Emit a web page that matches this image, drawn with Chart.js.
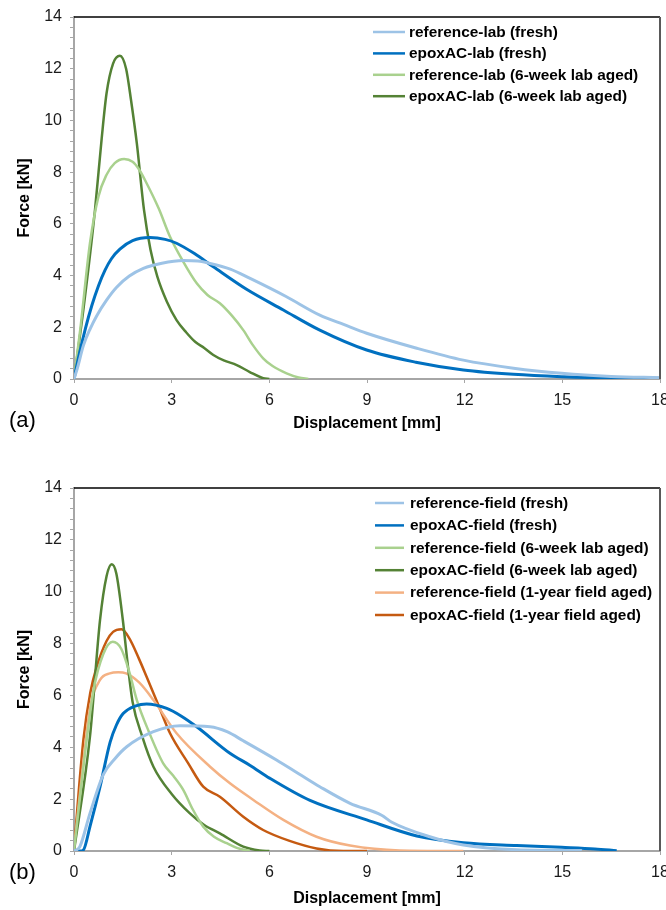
<!DOCTYPE html>
<html>
<head>
<meta charset="utf-8">
<script src="https://cdn.jsdelivr.net/npm/chart.js"></script>
<style>
  body { margin: 0; background: #fff; width: 666px; height: 910px; overflow: hidden; }
  .box { position: absolute; left: 0; width: 666px; height: 455px; }
</style>
</head>
<body>
<div class="box" style="top:0"><canvas id="chartA" width="666" height="455"></canvas></div>
<div class="box" style="top:455px"><canvas id="chartB" width="666" height="455"></canvas></div>
<script>
// axis ticks
const xTickStep = 3;
const xMax = 18;
const yMax = 14;
const yMinorStep = 0.4;
const yLabelStep = 2;

// ---- panel (a): lab mixes ----
const refLabFreshX = [0, 0.1, 0.29, 0.5, 0.7, 1.0, 1.31, 1.7, 2.13, 2.7, 3.36, 3.8, 4.18, 4.8, 5.41, 6.5, 7.55, 8.3, 8.99, 10.5, 11.96, 13.5, 14.98, 16.5, 18];
const refLabFreshY = [0, 0.4, 1.3, 1.95, 2.45, 3.05, 3.55, 3.98, 4.28, 4.48, 4.58, 4.56, 4.47, 4.25, 3.89, 3.2, 2.47, 2.1, 1.77, 1.2, 0.73, 0.42, 0.22, 0.1, 0.05];

const epoxLabFreshX = [0, 0.15, 0.35, 0.55, 0.75, 0.95, 1.15, 1.41, 1.8, 2.33, 2.8, 3.15, 3.7, 4.28, 5.3, 6.43, 7.55, 8.99, 10.5, 11.96, 13.5, 14.98, 16.5, 18];
const epoxLabFreshY = [0, 0.9, 1.95, 2.85, 3.6, 4.2, 4.65, 5.02, 5.35, 5.47, 5.4, 5.25, 4.85, 4.34, 3.47, 2.67, 1.89, 1.12, 0.65, 0.35, 0.18, 0.09, 0.04, 0.03];

const refLab6wX = [0, 0.2, 0.49, 0.75, 1.0, 1.25, 1.54, 1.8, 2.0, 2.23, 2.6, 2.95, 3.35, 3.77, 4.1, 4.48, 4.85, 5.2, 5.5, 5.81, 6.1, 6.53, 6.9, 7.2];
const refLab6wY = [0, 2.0, 5.25, 7.05, 7.9, 8.35, 8.51, 8.4, 8.1, 7.57, 6.6, 5.5, 4.55, 3.7, 3.25, 2.93, 2.45, 1.89, 1.3, 0.8, 0.5, 0.22, 0.06, 0];

const epoxLab6wX = [0, 0.3, 0.645, 0.85, 1.0, 1.2, 1.41, 1.6, 1.75, 1.93, 2.15, 2.35, 2.56, 2.85, 3.15, 3.45, 3.72, 4.0, 4.28, 4.6, 5.0, 5.4, 5.81, 6.0];
const epoxLab6wY = [0, 2.8, 6.54, 9.3, 11.05, 12.2, 12.5, 12.0, 10.8, 9.11, 6.54, 5.0, 3.96, 3.0, 2.28, 1.8, 1.44, 1.2, 0.93, 0.72, 0.54, 0.27, 0.03, 0];

// ---- panel (b): field mixes ----
const refFieldFreshX = [0, 0.18, 0.49, 0.9, 1.25, 1.62, 2.44, 3.26, 4.18, 4.7, 5.2, 6.22, 6.94, 7.55, 8.48, 9.45, 9.75, 10.93, 11.96, 13.6, 15.6];
const refFieldFreshY = [0, 0.17, 1.45, 2.95, 3.55, 4.02, 4.6, 4.83, 4.79, 4.6, 4.25, 3.51, 2.95, 2.48, 1.84, 1.38, 1.12, 0.55, 0.23, 0.05, 0.02];

const epoxFieldFreshX = [0, 0.2, 0.29, 0.49, 0.8, 1.11, 1.3, 1.51, 1.9, 2.23, 2.85, 3.3, 3.77, 4.79, 5.41, 6.02, 7.25, 8.99, 10.53, 11.96, 13.6, 14.98, 16.0, 16.67];
const epoxFieldFreshY = [0, 0, 0.04, 0.94, 2.48, 4.2, 4.85, 5.3, 5.6, 5.67, 5.5, 5.2, 4.79, 3.77, 3.3, 2.8, 1.95, 1.2, 0.58, 0.32, 0.21, 0.14, 0.08, 0.01];

const refField6wX = [0, 0.29, 0.6, 0.9, 1.19, 1.45, 1.7, 1.93, 2.3, 2.74, 3.05, 3.36, 3.65, 3.97, 4.3, 4.69, 5.0, 5.4];
const refField6wY = [0, 3.25, 6.2, 7.6, 8.07, 7.8, 6.9, 5.82, 4.6, 3.38, 2.9, 2.35, 1.6, 0.94, 0.55, 0.3, 0.12, 0];

const epoxField6wX = [0, 0.49, 0.8, 1.0, 1.16, 1.3, 1.5, 1.65, 1.8, 2.1, 2.44, 3.0, 3.56, 4.0, 4.48, 5.2, 5.7, 6.0];
const epoxField6wY = [0, 4.41, 8.91, 10.6, 11.06, 10.7, 8.91, 7.2, 5.75, 4.4, 3.25, 2.2, 1.45, 1.0, 0.68, 0.17, 0.02, 0];

const refField1yX = [0, 0.25, 0.49, 0.8, 1.1, 1.36, 1.6, 2.0, 2.44, 3.15, 4.18, 4.8, 5.51, 6.43, 7.45, 8.48, 10.0, 11.96];
const refField1yY = [0, 3.0, 5.5, 6.6, 6.85, 6.89, 6.85, 6.5, 5.82, 4.54, 3.25, 2.6, 1.97, 1.2, 0.55, 0.21, 0.02, 0];

const epoxField1yX = [0, 0.1, 0.29, 0.5, 0.7, 1.0, 1.2, 1.46, 1.7, 2.0, 2.23, 2.6, 2.95, 3.5, 3.97, 4.48, 5.2, 5.81, 6.6, 7.45, 8.27, 9.0];
const epoxField1yY = [0, 1.6, 4.3, 6.1, 7.11, 8.1, 8.45, 8.55, 8.2, 7.4, 6.72, 5.6, 4.54, 3.4, 2.48, 2.09, 1.32, 0.81, 0.4, 0.1, 0, 0];

function pts(xs, ys) {
  return xs.map((x, i) => ({ x: x, y: ys[i] }));
}

function series(label, xs, ys, color, width) {
  return {
    label: label,
    data: pts(xs, ys),
    borderColor: color,
    backgroundColor: color,
    borderWidth: width,
    pointRadius: 0,
    cubicInterpolationMode: 'monotone',
    fill: false
  };
}

const FONT = '"Liberation Sans", Arial, sans-serif';
Chart.defaults.font.family = FONT;
Chart.defaults.color = '#1a1a1a';

// plot frame, legend and panel letter
const framePlugin = {
  id: 'frame',
  afterDraw(chart, args, o) {
    const ctx = chart.ctx, a = chart.chartArea;
    ctx.save();
    ctx.strokeStyle = '#000';
    ctx.lineWidth = 1.5;
    ctx.beginPath(); ctx.moveTo(a.left, a.top); ctx.lineTo(a.right, a.top); ctx.stroke();
    ctx.strokeStyle = '#595959';
    ctx.lineWidth = 2;
    ctx.beginPath(); ctx.moveTo(a.right, a.top); ctx.lineTo(a.right, a.bottom); ctx.stroke();

    ctx.font = 'bold 15.4px ' + FONT;
    ctx.textBaseline = 'middle';
    ctx.textAlign = 'left';
    chart.data.datasets.forEach((ds, i) => {
      const y = o.legendTop + i * o.legendStep;
      ctx.strokeStyle = ds.borderColor;
      ctx.lineWidth = 2.5;
      ctx.beginPath(); ctx.moveTo(o.lineX0, y); ctx.lineTo(o.lineX1, y); ctx.stroke();
      ctx.fillStyle = '#000';
      ctx.fillText(ds.label, o.textX, y + 0.5);
    });

    ctx.font = '22px ' + FONT;
    ctx.fillStyle = '#000';
    ctx.fillText(o.panel, 9, o.panelY);
    ctx.restore();
  }
};

function makeChart(id, datasets, cfg) {
  return new Chart(document.getElementById(id), {
    type: 'line',
    data: { datasets: datasets },
    plugins: [framePlugin],
    options: {
      responsive: false,
      animation: false,
      layout: { padding: { left: 0, top: cfg.top, right: 6, bottom: 0 } },
      plugins: {
        legend: { display: false },
        tooltip: { enabled: false },
        frame: cfg.frame
      },
      scales: {
        x: {
          type: 'linear',
          min: 0,
          max: xMax,
          ticks: { stepSize: xTickStep, padding: 8, font: { size: 16 } },
          grid: { drawOnChartArea: false, drawTicks: true, tickLength: 4, color: '#a6a6a6' },
          border: { color: '#a6a6a6', width: 2 },
          title: { display: true, text: 'Displacement [mm]', font: { size: 16, weight: 'bold' }, color: '#000', padding: { top: 0, bottom: cfg.xTitlePad } },
          afterFit(s) { s.height = cfg.xHeight; s.paddingLeft = 0; s.paddingRight = 0; }
        },
        y: {
          type: 'linear',
          min: 0,
          max: yMax,
          ticks: {
            stepSize: yMinorStep,
            autoSkip: false,
            padding: 8,
            font: { size: 16 },
            callback(v) {
              const r = v / yLabelStep;
              return Math.abs(r - Math.round(r)) < 1e-6 ? String(Math.round(v)) : '';
            }
          },
          grid: { drawOnChartArea: false, drawTicks: true, tickLength: 4, color: '#a6a6a6' },
          border: { color: '#a6a6a6', width: 2 },
          title: { display: true, text: 'Force [kN]', font: { size: 16, weight: 'bold' }, color: '#000', padding: { top: 15, bottom: 0 } },
          afterFit(s) { s.width = 74; s.paddingTop = 0; s.paddingBottom = 0; }
        }
      }
    }
  });
}

makeChart('chartA', [
  series('reference-lab (fresh)', refLabFreshX, refLabFreshY, '#9dc3e6', 3),
  series('epoxAC-lab (fresh)', epoxLabFreshX, epoxLabFreshY, '#0070c0', 3),
  series('reference-lab (6-week lab aged)', refLab6wX, refLab6wY, '#a9d18e', 2.5),
  series('epoxAC-lab (6-week lab aged)', epoxLab6wX, epoxLab6wY, '#548235', 2.5)
], {
  top: 17, xHeight: 76, xTitlePad: 21.4,
  frame: { legendTop: 32, legendStep: 21.4, lineX0: 373, lineX1: 405, textX: 409, panel: '(a)', panelY: 421 }
});

makeChart('chartB', [
  series('reference-field (fresh)', refFieldFreshX, refFieldFreshY, '#9dc3e6', 3),
  series('epoxAC-field (fresh)', epoxFieldFreshX, epoxFieldFreshY, '#0070c0', 3),
  series('reference-field (6-week lab aged)', refField6wX, refField6wY, '#a9d18e', 2.5),
  series('epoxAC-field (6-week lab aged)', epoxField6wX, epoxField6wY, '#548235', 2.5),
  series('reference-field (1-year field aged)', refField1yX, refField1yY, '#f4b183', 2.5),
  series('epoxAC-field (1-year field aged)', epoxField1yX, epoxField1yY, '#c55a11', 2.5)
], {
  top: 33, xHeight: 59, xTitlePad: 1.6,
  frame: { legendTop: 48, legendStep: 22.4, lineX0: 375, lineX1: 404, textX: 410, panel: '(b)', panelY: 418 }
});
</script>
</body>
</html>
